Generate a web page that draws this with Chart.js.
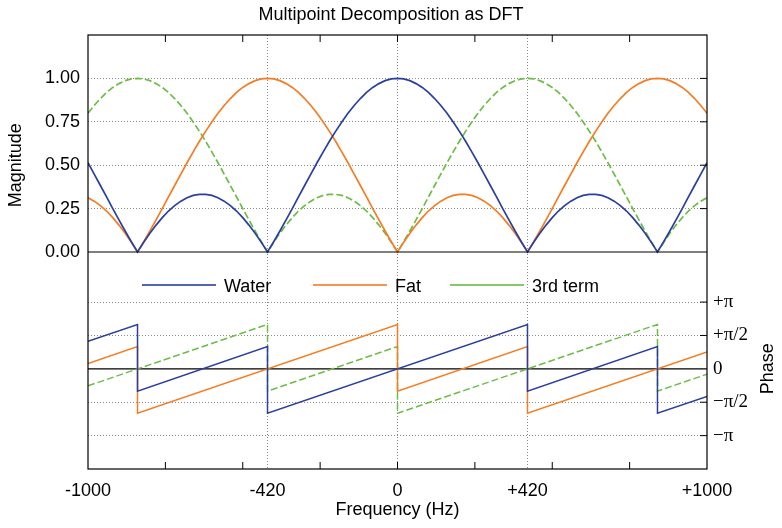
<!DOCTYPE html>
<html><head><meta charset="utf-8">
<script src="https://cdn.jsdelivr.net/npm/chart.js@4.4.1/dist/chart.umd.min.js"></script>
<style>html,body{margin:0;padding:0;background:#fff;}#wrap{width:782px;height:528px;}</style>
</head><body><div id="wrap"><canvas id="c" width="782" height="528"></canvas></div>
<script>
// ---- data ----
const freq = [-1000,-980,-960,-940,-920,-900,-880,-860,-840,-820,-800,-780,-760,-740,-720,-700,-680,-660,-640,-620,-600,-580,-560,-540,-520,-500,-480,-460,-440,-420,-400,-380,-360,-340,-320,-300,-280,-260,-240,-220,-200,-180,-160,-140,-120,-100,-80,-60,-40,-20,0,20,40,60,80,100,120,140,160,180,200,220,240,260,280,300,320,340,360,380,400,420,440,460,480,500,520,540,560,580,600,620,640,660,680,700,720,740,760,780,800,820,840,860,880,900,920,940,960,980,1000];

const waterMag = [0.514,0.449,0.383,0.317,0.250,0.185,0.121,0.059,0,0.056,0.108,0.155,0.198,0.236,0.267,0.293,0.313,0.326,0.332,0.332,0.326,0.313,0.293,0.267,0.236,0.198,0.155,0.108,0.056,0,0.059,0.121,0.185,0.250,0.317,0.383,0.449,0.514,0.577,0.638,0.695,0.749,0.799,0.844,0.884,0.919,0.948,0.970,0.987,0.997,1.000,
0.997,0.987,0.970,0.948,0.919,0.884,0.844,0.799,0.749,0.695,0.638,0.577,0.514,0.449,0.383,0.317,0.250,0.185,0.121,0.059,0,0.056,0.108,0.155,0.198,0.236,0.267,0.293,0.313,0.326,0.332,0.332,0.326,0.313,0.293,0.267,0.236,0.198,0.155,0.108,0.056,0,0.059,0.121,0.185,0.250,0.317,0.383,0.449,0.514];

const fatMag = [0.313,0.293,0.267,0.236,0.198,0.155,0.108,0.056,0,0.059,0.121,0.185,0.250,0.317,0.383,0.449,0.514,0.577,0.638,0.695,0.749,0.799,0.844,0.884,0.919,0.948,0.970,0.987,0.997,1.000,
0.997,0.987,0.970,0.948,0.919,0.884,0.844,0.799,0.749,0.695,0.638,0.577,0.514,0.449,0.383,0.317,0.250,0.185,0.121,0.059,0,0.056,0.108,0.155,0.198,0.236,0.267,0.293,0.313,0.326,0.332,0.332,0.326,0.313,0.293,0.267,0.236,0.198,0.155,0.108,0.056,0,0.059,0.121,0.185,0.250,0.317,0.383,0.449,0.514,0.577,0.638,0.695,0.749,0.799,0.844,0.884,0.919,0.948,0.970,0.987,0.997,1.000,
0.997,0.987,0.970,0.948,0.919,0.884,0.844,0.799];

const thirdMag = [0.799,0.844,0.884,0.919,0.948,0.970,0.987,0.997,1.000,
0.997,0.987,0.970,0.948,0.919,0.884,0.844,0.799,0.749,0.695,0.638,0.577,0.514,0.449,0.383,0.317,0.250,0.185,0.121,0.059,0,0.056,0.108,0.155,0.198,0.236,0.267,0.293,0.313,0.326,0.332,0.332,0.326,0.313,0.293,0.267,0.236,0.198,0.155,0.108,0.056,0,0.059,0.121,0.185,0.250,0.317,0.383,0.449,0.514,0.577,0.638,0.695,0.749,0.799,0.844,0.884,0.919,0.948,0.970,0.987,0.997,1.000,
0.997,0.987,0.970,0.948,0.919,0.884,0.844,0.799,0.749,0.695,0.638,0.577,0.514,0.449,0.383,0.317,0.250,0.185,0.121,0.059,0,0.056,0.108,0.155,0.198,0.236,0.267,0.293,0.313];

// phase (radians): breakpoints and values, wraps drawn as vertical jumps
const waterPhaseX = [-1000,-840,-840,-420,-420,420,420,840,840,1000];
const waterPhaseY = [1.30,2.09,-1.05,1.05,-2.09,2.09,-1.05,1.05,-2.09,-1.30];
const fatPhaseX   = [-1000,-840,-840,0,0,420,420,1000];
const fatPhaseY   = [0.25,1.05,-2.09,2.09,-1.05,1.05,-2.09,0.80];
const thirdPhaseX = [-1000,-420,-420,0,0,840,840,1000];
const thirdPhaseY = [-0.80,2.09,-1.05,1.05,-2.09,2.09,-1.05,-0.25];

const seriesNames = ['Water','Fat','3rd term'];
const freqTicks = [-1000,-420,0,420,1000];
const freqTickLabels = ['-1000','-420','0','+420','+1000'];
const freqMinorTicks = [-750,-500,-250,0,250,500,750];
const magTicks = [0,0.25,0.5,0.75,1.0];
const magTickLabels = ['0.00','0.25','0.50','0.75','1.00'];
const phaseTicks = [-Math.PI,-Math.PI/2,0,Math.PI/2,Math.PI];
const phaseTickLabels = ['\u2212\u03c0','\u2212\u03c0/2','0','+\u03c0/2','+\u03c0'];

// ---- styling ----
const colors = ['#2a3f9f','#f47d23','#6cbd45'];
const SANS = "'Liberation Sans', Arial, Helvetica, sans-serif";
const SERIF = "'Liberation Serif', 'Times New Roman', serif";
const pts = (xs, ys) => xs.map((x, i) => ({x: x, y: ys[i]}));

const datasets = [
  {label: seriesNames[0], data: pts(freq, waterMag), yAxisID: 'yMag', borderColor: colors[0], borderWidth: 1.7},
  {label: seriesNames[1], data: pts(freq, fatMag), yAxisID: 'yMag', borderColor: colors[1], borderWidth: 1.7},
  {label: seriesNames[2], data: pts(freq, thirdMag), yAxisID: 'yMag', borderColor: colors[2], borderWidth: 1.7, borderDash: [7,3]},
  {label: seriesNames[0], data: pts(waterPhaseX, waterPhaseY), yAxisID: 'yPh', borderColor: colors[0], borderWidth: 1.5},
  {label: seriesNames[1], data: pts(fatPhaseX, fatPhaseY), yAxisID: 'yPh', borderColor: colors[1], borderWidth: 1.5},
  {label: seriesNames[2], data: pts(thirdPhaseX, thirdPhaseY), yAxisID: 'yPh', borderColor: colors[2], borderWidth: 1.5, borderDash: [7,3]}
].map(d => Object.assign({pointRadius: 0, tension: 0, fill: false, backgroundColor: d.borderColor}, d));

const decor = {
  id: 'decor',
  beforeDatasetsDraw(chart) {
    const {ctx, chartArea: a, scales} = chart;
    ctx.save();
    ctx.strokeStyle = '#000'; ctx.lineWidth = 1.2;
    const yp = scales.yPh.getPixelForValue(0);
    ctx.beginPath(); ctx.moveTo(a.left, yp); ctx.lineTo(a.right, yp); ctx.stroke();
    ctx.restore();
  },
  afterDatasetsDraw(chart) {
    const {ctx, chartArea: a, scales} = chart;
    ctx.save();
    ctx.setLineDash([]);
    ctx.strokeStyle = '#000'; ctx.lineWidth = 1.2;
    ctx.strokeRect(a.left, a.top, a.right - a.left, a.bottom - a.top);
    const y0 = scales.yMag.getPixelForValue(0);
    ctx.beginPath(); ctx.moveTo(a.left, y0); ctx.lineTo(a.right, y0); ctx.stroke();
    ctx.lineWidth = 1;
    ctx.beginPath();
    freqMinorTicks.forEach(v => {
      const x = scales.x.getPixelForValue(v);
      ctx.moveTo(x, a.top); ctx.lineTo(x, a.top + 7);
      ctx.moveTo(x, a.bottom); ctx.lineTo(x, a.bottom - 7);
    });
    magTicks.filter(v => v > 0).forEach(v => {
      const y = scales.yMag.getPixelForValue(v);
      ctx.moveTo(a.right, y); ctx.lineTo(a.right - 7, y);
    });
    phaseTicks.filter(v => v !== 0).forEach(v => {
      const y = scales.yPh.getPixelForValue(v);
      ctx.moveTo(a.right, y); ctx.lineTo(a.right - 7, y);
    });
    ctx.stroke();
    ctx.restore();
  },
  afterDraw(chart) {
    const {ctx, scales} = chart;
    ctx.save();
    ctx.setLineDash([]);
    ctx.globalAlpha = 1;
    ctx.fillStyle = '#000';
    ctx.font = '18px ' + SANS;
    ctx.textAlign = 'center'; ctx.textBaseline = 'middle';
    // axis titles
    ctx.save(); ctx.translate(16, scales.yMag.getPixelForValue(0.5)); ctx.rotate(-Math.PI/2);
    ctx.fillText('Magnitude', 0, 0); ctx.restore();
    ctx.save(); ctx.translate(768, scales.yPh.getPixelForValue(0)); ctx.rotate(-Math.PI/2);
    ctx.fillText('Phase', 0, 0); ctx.restore();
    // legend
    const starts = [142, 313, 450];
    const ly = 285;
    ctx.textAlign = 'left';
    seriesNames.forEach((name, i) => {
      ctx.fillStyle = colors[i];
      ctx.fillRect(starts[i], ly - 0.8, 74, 1.6);
      ctx.fillStyle = '#000';
      ctx.fillText(name, starts[i] + 82, ly + 2);
    });
    ctx.restore();
  }
};

const dotted = '#8a8a8a';
new Chart(document.getElementById('c'), {
  type: 'line',
  data: {datasets: datasets},
  plugins: [decor],
  options: {
    responsive: false, animation: false, devicePixelRatio: 1,
    layout: {padding: 0},
    plugins: {
      legend: {display: false}, tooltip: {enabled: false},
      title: {display: true, text: 'Multipoint Decomposition as DFT', color: '#000',
              font: {family: SANS, size: 18, weight: 'normal'}, padding: {top: 4, bottom: 9.4}}
    },
    scales: {
      x: {
        type: 'linear', position: 'bottom', min: -1000, max: 1000,
        afterBuildTicks: s => { s.ticks = freqTicks.map(v => ({value: v})); },
        afterFit: s => { s.height = 59; },
        ticks: {autoSkip: false, maxRotation: 0, padding: 11, color: '#000', font: {family: SANS, size: 18},
                callback: v => freqTickLabels[freqTicks.indexOf(v)]},
        grid: {drawTicks: false, lineWidth: 1, color: c => (c.tick && Math.abs(c.tick.value) < 1000) ? dotted : 'rgba(0,0,0,0)'},
        border: {display: false, dash: [1, 2]},
        title: {display: true, text: 'Frequency (Hz)', color: '#000', font: {family: SANS, size: 18}, padding: {top: 0, bottom: 7}}
      },
      yMag: {
        type: 'linear', position: 'left', min: -1.25, max: 1.25,
        afterBuildTicks: s => { s.ticks = magTicks.map(v => ({value: v})); },
        afterFit: s => { s.width = 88; },
        ticks: {autoSkip: false, padding: 8, color: '#000', font: {family: SANS, size: 18},
                callback: v => magTickLabels[magTicks.indexOf(v)]},
        grid: {drawTicks: false, lineWidth: 1, color: c => (c.tick && c.tick.value > 0) ? dotted : 'rgba(0,0,0,0)'},
        border: {display: false, dash: [1, 2]}
      },
      yPh: {
        type: 'linear', position: 'right', min: -1.5 * Math.PI, max: 5 * Math.PI,
        afterBuildTicks: s => { s.ticks = phaseTicks.map(v => ({value: v})); },
        afterFit: s => { s.width = 75; },
        ticks: {autoSkip: false, padding: 6, color: '#000', font: {family: SERIF, size: 19},
                callback: v => phaseTickLabels[phaseTicks.indexOf(v)]},
        grid: {drawTicks: false, lineWidth: 1, color: c => (c.tick && c.tick.value !== 0) ? dotted : 'rgba(0,0,0,0)'},
        border: {display: false, dash: [1, 2]}
      }
    }
  }
});
</script>
</body></html>
